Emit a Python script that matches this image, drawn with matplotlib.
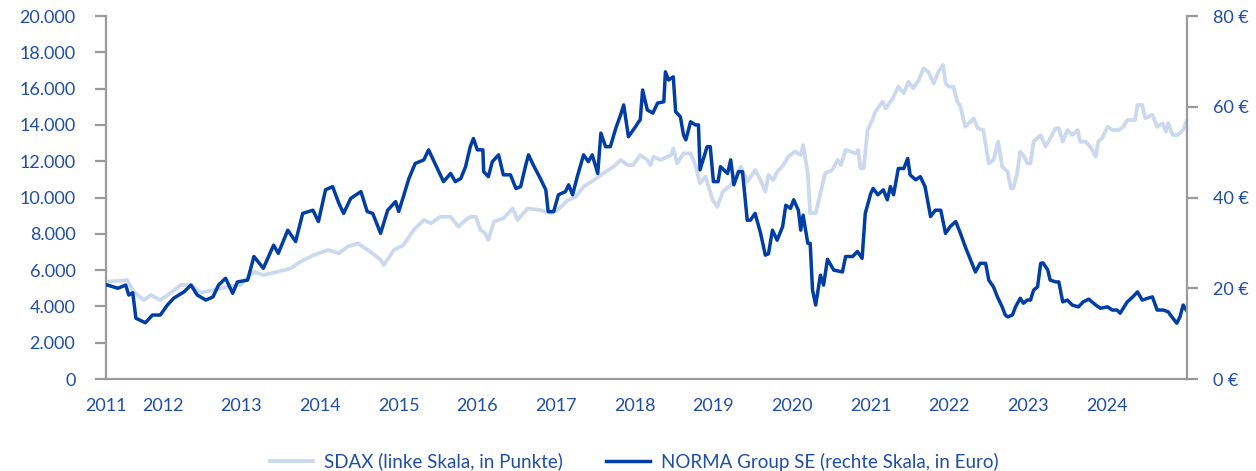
import matplotlib.pyplot as plt
from matplotlib.ticker import FuncFormatter

plt.rcParams['font.family'] = ['Lato', 'DejaVu Sans']

text_color = '#1f4ea6'
spine_color = '#9a9a9a'
sdax_color = '#cbd8ee'
norma_color = '#003da5'

# SDAX, linke Skala (Punkte); x als Dezimaljahr
sdax_t = [2011.29, 2011.55, 2011.63, 2011.76, 2011.85, 2011.97, 2012.10, 2012.23, 2012.36, 2012.48,
          2012.65, 2012.83, 2012.99, 2013.16, 2013.28, 2013.46, 2013.63, 2013.75, 2013.92, 2014.10,
          2014.24, 2014.35, 2014.48, 2014.64, 2014.77, 2014.81, 2014.94, 2015.06, 2015.19, 2015.32,
          2015.41, 2015.53, 2015.66, 2015.76, 2015.85, 2015.91, 2015.98, 2016.04, 2016.10, 2016.14,
          2016.21, 2016.33, 2016.45, 2016.51, 2016.64, 2016.80, 2016.93, 2017.02, 2017.15, 2017.25,
          2017.35, 2017.48, 2017.60, 2017.73, 2017.82, 2017.91, 2017.98, 2018.07, 2018.16, 2018.20,
          2018.24, 2018.33, 2018.46, 2018.49, 2018.54, 2018.62, 2018.71, 2018.77, 2018.83, 2018.90,
          2018.99, 2019.05, 2019.12, 2019.22, 2019.35, 2019.43, 2019.53, 2019.60, 2019.66, 2019.70,
          2019.76, 2019.81, 2019.89, 2019.95, 2020.04, 2020.11, 2020.14, 2020.20, 2020.23, 2020.30,
          2020.36, 2020.42, 2020.51, 2020.58, 2020.62, 2020.68, 2020.74, 2020.81, 2020.84, 2020.87,
          2020.91, 2020.96, 2021.02, 2021.06, 2021.15, 2021.19, 2021.28, 2021.35, 2021.42, 2021.48,
          2021.54, 2021.61, 2021.67, 2021.73, 2021.80, 2021.86, 2021.92, 2021.95, 2021.99, 2022.05,
          2022.10, 2022.14, 2022.20, 2022.31, 2022.36, 2022.43, 2022.50, 2022.56, 2022.62, 2022.67,
          2022.74, 2022.78, 2022.81, 2022.86, 2022.90, 2022.94, 2022.99, 2023.03, 2023.07, 2023.16,
          2023.22, 2023.28, 2023.35, 2023.39, 2023.44, 2023.50, 2023.56, 2023.63, 2023.66, 2023.73,
          2023.79, 2023.86, 2023.89, 2023.94, 2024.01, 2024.07, 2024.15, 2024.21, 2024.26, 2024.36,
          2024.39, 2024.45, 2024.49, 2024.58, 2024.64, 2024.71, 2024.75, 2024.78, 2024.84, 2024.90,
          2024.97, 2025.01]
sdax = [5360, 5450, 4810, 4350, 4630, 4350, 4740, 5180, 5180, 4760,
        4900, 5090, 5180, 5910, 5730, 5910, 6100, 6460, 6830, 7110,
        6930, 7290, 7480, 7010, 6560, 6280, 7110, 7380, 8210, 8760,
        8580, 8940, 8940, 8390, 8760, 8940, 8940, 8210, 8030, 7660,
        8670, 8850, 9400, 8760, 9400, 9310, 9130, 9310, 9860, 10040,
        10600, 10960, 11330, 11700, 12070, 11790, 11790, 12340, 12070, 11790,
        12250, 12070, 12340, 12710, 11880, 12430, 12430, 11790, 10780, 11150,
        9860, 9490, 10320, 10690, 11700, 10870, 11520, 10960, 10320, 11240,
        10960, 11420, 11790, 12250, 12530, 12340, 12890, 11330, 9130, 9130,
        10230, 11330, 11520, 12070, 11790, 12620, 12530, 12430, 12620, 11610,
        11610, 13720, 14270, 14730, 15280, 14910, 15460, 16110, 15740, 16380,
        16020, 16470, 17120, 16930, 16290, 16930, 17300, 16290, 16110, 16110,
        15280, 15010, 13900, 14360, 13810, 13720, 11880, 12070, 13080, 11700,
        11420, 10510, 10510, 11330, 12530, 12340, 11880, 11880, 13080, 13440,
        12800, 13260, 13810, 13810, 13080, 13720, 13440, 13720, 13080, 13080,
        12800, 12250, 13080, 13260, 13900, 13720, 13720, 13900, 14270, 14270,
        15100, 15100, 14360, 14550, 13900, 14090, 13630, 14090, 13440, 13440,
        13720, 14180]

# NORMA Group SE, rechte Skala (Euro)
norma_t = [2011.30, 2011.43, 2011.53, 2011.57, 2011.62, 2011.66, 2011.78, 2011.87, 2011.97, 2012.06,
           2012.14, 2012.27, 2012.36, 2012.44, 2012.55, 2012.64, 2012.71, 2012.80, 2012.89, 2012.95,
           2013.08, 2013.16, 2013.28, 2013.41, 2013.47, 2013.59, 2013.69, 2013.78, 2013.91, 2013.98,
           2014.07, 2014.16, 2014.24, 2014.30, 2014.39, 2014.52, 2014.60, 2014.67, 2014.77, 2014.86,
           2014.96, 2015.00, 2015.06, 2015.13, 2015.21, 2015.32, 2015.38, 2015.44, 2015.57, 2015.66,
           2015.72, 2015.79, 2015.85, 2015.91, 2015.95, 2016.00, 2016.07, 2016.08, 2016.14, 2016.19,
           2016.27, 2016.33, 2016.42, 2016.49, 2016.55, 2016.61, 2016.65, 2016.71, 2016.80, 2016.87,
           2016.90, 2016.97, 2017.03, 2017.12, 2017.16, 2017.21, 2017.27, 2017.35, 2017.41, 2017.46,
           2017.53, 2017.57, 2017.63, 2017.69, 2017.76, 2017.82, 2017.86, 2017.92, 2018.01, 2018.05,
           2018.07, 2018.10, 2018.16, 2018.23, 2018.29, 2018.37, 2018.39, 2018.43, 2018.49, 2018.52,
           2018.58, 2018.62, 2018.65, 2018.71, 2018.77, 2018.81, 2018.83, 2018.92, 2018.96, 2019.00,
           2019.06, 2019.09, 2019.18, 2019.22, 2019.26, 2019.32, 2019.37, 2019.43, 2019.47, 2019.53,
           2019.60, 2019.66, 2019.70, 2019.75, 2019.81, 2019.88, 2019.92, 2019.98, 2020.02, 2020.08,
           2020.11, 2020.14, 2020.20, 2020.23, 2020.26, 2020.30, 2020.36, 2020.40, 2020.45, 2020.53,
           2020.64, 2020.68, 2020.77, 2020.83, 2020.89, 2020.93, 2021.00, 2021.03, 2021.09, 2021.16,
           2021.21, 2021.25, 2021.29, 2021.35, 2021.42, 2021.47, 2021.50, 2021.57, 2021.63, 2021.69,
           2021.76, 2021.82, 2021.89, 2021.95, 2022.01, 2022.08, 2022.14, 2022.20, 2022.27, 2022.33,
           2022.39, 2022.46, 2022.50, 2022.56, 2022.61, 2022.67, 2022.71, 2022.74, 2022.80, 2022.84,
           2022.90, 2022.94, 2022.99, 2023.03, 2023.07, 2023.12, 2023.16, 2023.19, 2023.25, 2023.28,
           2023.35, 2023.39, 2023.44, 2023.50, 2023.56, 2023.64, 2023.70, 2023.77, 2023.86, 2023.92,
           2024.01, 2024.07, 2024.13, 2024.17, 2024.26, 2024.33, 2024.39, 2024.45, 2024.52, 2024.58,
           2024.64, 2024.72, 2024.78, 2024.84, 2024.89, 2024.93, 2024.97, 2025.01]
norma = [20.7, 20.0, 20.7, 18.5, 19.0, 13.4, 12.4, 14.1, 14.1, 16.3,
         17.8, 19.2, 20.7, 18.5, 17.4, 18.1, 20.7, 22.2, 18.9, 21.4,
         21.8, 27.0, 24.4, 29.5, 27.7, 32.8, 30.3, 36.5, 37.2, 34.7,
         41.7, 42.4, 38.7, 36.5, 39.8, 41.3, 36.9, 36.5, 32.1, 37.2,
         39.1, 36.9, 40.2, 44.2, 47.5, 48.3, 50.5, 48.3, 43.5, 45.3,
         43.5, 44.2, 46.8, 51.2, 53.0, 50.5, 50.5, 45.7, 44.6, 47.9,
         49.4, 45.0, 45.0, 42.0, 42.4, 46.8, 49.4, 47.2, 44.2, 41.7,
         36.9, 36.9, 40.6, 41.3, 42.8, 40.6, 44.6, 49.4, 47.9, 49.4,
         45.3, 54.2, 51.2, 51.2, 55.3, 58.2, 60.4, 53.4, 55.6, 56.7,
         57.1, 63.7, 59.3, 58.6, 60.8, 61.1, 67.7, 65.9, 66.6, 58.9,
         57.8, 53.8, 52.7, 56.7, 56.0, 56.0, 46.1, 51.2, 51.2, 43.5,
         43.5, 46.8, 45.3, 48.3, 42.8, 45.7, 45.7, 35.0, 35.0, 36.5,
         32.1, 27.3, 27.6, 32.8, 30.6, 33.6, 38.3, 37.6, 39.5, 37.2,
         32.8, 36.1, 29.9, 29.9, 19.6, 16.3, 22.9, 20.7, 26.4, 24.0,
         23.6, 27.0, 27.0, 28.1, 26.6, 36.5, 40.9, 42.0, 40.6, 41.7,
         39.5, 42.4, 40.6, 46.4, 46.4, 48.6, 45.0, 43.9, 44.6, 42.4,
         35.8, 37.2, 37.2, 32.1, 33.6, 34.7, 32.1, 29.2, 26.2, 23.6,
         25.5, 25.5, 21.8, 20.3, 18.1, 15.9, 14.1, 13.7, 14.1, 15.9,
         17.8, 16.7, 17.4, 17.4, 19.6, 20.3, 25.5, 25.6, 24.0, 21.8,
         21.4, 21.4, 17.0, 17.4, 16.3, 15.9, 17.0, 17.6, 16.3, 15.6,
         15.9, 15.2, 15.2, 14.5, 17.0, 18.1, 19.2, 17.4, 17.8, 18.1,
         15.2, 15.2, 14.8, 13.4, 12.3, 13.7, 16.3, 15.2]

year_ticks = [2011.28, 2012, 2013, 2014, 2015, 2016, 2017, 2018, 2019, 2020, 2021, 2022, 2023, 2024]
year_labels = ['2011', '2012', '2013', '2014', '2015', '2016', '2017', '2018', '2019', '2020',
               '2021', '2022', '2023', '2024']

fig = plt.figure(figsize=(12.56, 4.71), dpi=100)
ax = fig.add_axes([0.0844, 0.1953, 0.8607, 0.7707])
ax2 = ax.twinx()

l1, = ax.plot(sdax_t, sdax, color=sdax_color, lw=2.7, label='SDAX (linke Skala, in Punkte)')
l2, = ax2.plot(norma_t, norma, color=norma_color, lw=2.5, label='NORMA Group SE (rechte Skala, in Euro)')

ax.set_xlim(2011.28, 2025.02)
ax.set_ylim(0, 20000)
ax2.set_ylim(0, 80)
ax.set_yticks(range(0, 20001, 2000))
ax2.set_yticks(range(0, 81, 20))
ax.yaxis.set_major_formatter(FuncFormatter(lambda v, p: f'{int(v):,}'.replace(',', '.')))
ax2.yaxis.set_major_formatter(FuncFormatter(lambda v, p: f'{int(v)} €'))
ax.set_xticks(year_ticks)
ax.set_xticklabels(year_labels)

for a in (ax, ax2):
    for s in a.spines.values():
        s.set_color(spine_color)
        s.set_linewidth(1.6)
    a.spines['top'].set_visible(False)
ax.spines['right'].set_visible(False)
ax2.spines['left'].set_visible(False)
ax2.spines['bottom'].set_visible(False)

ax.tick_params(axis='y', length=8, width=1.6, color=spine_color, labelsize=13,
               labelcolor=text_color, pad=14)
ax2.tick_params(axis='y', length=8, width=1.6, color=spine_color, labelsize=13,
                labelcolor=text_color, pad=11)
ax.tick_params(axis='x', length=0, labelsize=13, labelcolor=text_color, pad=14)

fig.legend(handles=[l1, l2], loc='lower center', bbox_to_anchor=(0.505, -0.035), ncol=2,
           frameon=False, fontsize=13.5, labelcolor=text_color, handlelength=2.3,
           columnspacing=2.3, handletextpad=0.6)

fig.savefig('out.png', dpi=100)
